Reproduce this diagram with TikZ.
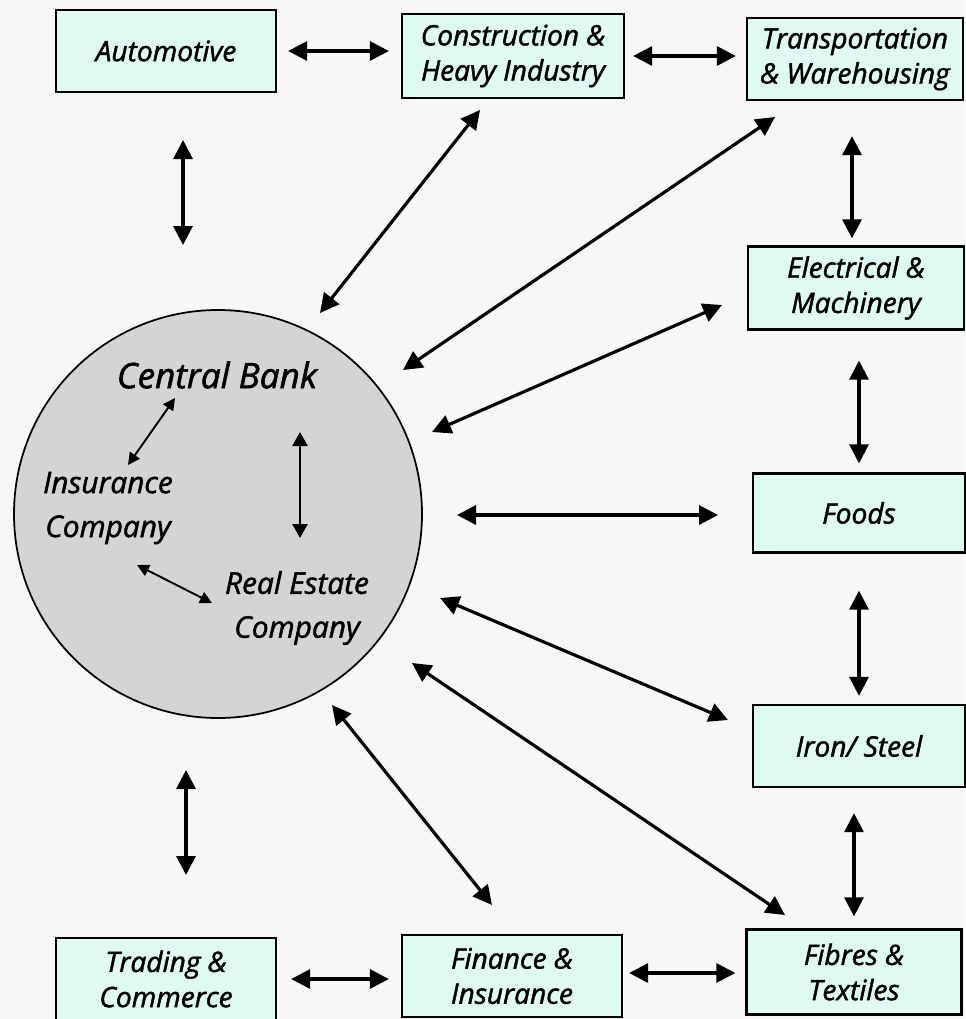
\documentclass[tikz,border=0pt]{standalone}
\usepackage{fontspec}
\setmainfont{Open Sans}[ItalicFeatures={FakeBold=1.6}]
\usetikzlibrary{arrows.meta}
\definecolor{boxfill}{RGB}{222,250,243}
\definecolor{bankfill}{RGB}{212,212,212}
\definecolor{pagebg}{RGB}{247,247,247}
\tikzset{
sector/.style={draw,line width=1.3pt,fill=boxfill,minimum width=4.4cm,minimum height=1.64cm,inner sep=1pt,align=center,font=\fontsize{16}{20}\selectfont\itshape},
link/.style={<->,line width=1.8pt},
inlink/.style={<->,line width=1.1pt,>={Triangle[length=2.4mm,width=2.4mm]}},
inlabel/.style={align=center,font=\fontsize{17}{25}\selectfont\itshape},
}
\begin{document}
\begin{tikzpicture}[>={Triangle[length=3.8mm,width=3.8mm]}]
\useasboundingbox(0,0)rectangle(19.3,-20.38);
\fill[pagebg](0,0)rectangle(19.3,-20.38);
\node(bank)[circle,draw,line width=1pt,fill=bankfill,minimum size=8.16cm]at(4.36,-10.28){};
\node(cb)[inlabel,font=\fontsize{20}{25}\selectfont\itshape]at(4.34,-7.5){Central Bank};
\node(ins)[inlabel]at(2.16,-10.16){Insurance\\Company};
\node(re)[inlabel]at(5.94,-12.16){Real Estate\\Company};
\node(auto)[sector]at(3.32,-1.02){Automotive};
\node(constr)[sector,minimum width=4.44cm,minimum height=1.68cm]at(10.26,-1.12){Construction \&\\Heavy Industry};
\node(trans)[sector,minimum width=4.32cm]at(17.1,-1.18){Transportation\\\& Warehousing};
\node(elec)[sector,minimum width=4.32cm,minimum height=1.66cm]at(17.12,-5.76){Electrical \&\\Machinery};
\node(foods)[sector,minimum width=4.24cm,minimum height=1.58cm]at(17.18,-10.26){Foods};
\node(iron)[sector,minimum width=4.24cm]at(17.18,-14.92){Iron/ Steel};
\node(fibres)[sector,minimum width=4.3cm,minimum height=1.7cm]at(17.08,-19.44){Fibres \&\\Textiles};
\node(fin)[sector]at(10.24,-19.52){Finance \&\\Insurance};
\node(trade)[sector]at(3.32,-19.58){Trading \&\\Commerce};
\coordinate(a1)at(3.66,-2.8);\coordinate(a2)at(3.66,-4.9);
\coordinate(c1)at(9.6,-2.2);\coordinate(c2)at(6.4,-6.26);
\coordinate(t1)at(15.5,-2.34);\coordinate(t2)at(8.06,-7.4);
\coordinate(e1)at(14.44,-6.1);\coordinate(e2)at(8.64,-8.64);
\coordinate(f1)at(14.36,-10.3);\coordinate(f2)at(9.14,-10.3);
\coordinate(i1)at(14.56,-14.4);\coordinate(i2)at(8.8,-11.96);
\coordinate(x1)at(15.7,-18.3);\coordinate(x2)at(8.24,-13.26);
\coordinate(n1)at(9.84,-18.1);\coordinate(n2)at(6.64,-14.1);
\coordinate(d1)at(3.72,-15.4);\coordinate(d2)at(3.72,-17.5);
\coordinate(b1)at(3.5,-7.96);\coordinate(b2)at(2.56,-9.3);
\coordinate(b3)at(6,-8.64);\coordinate(b4)at(6,-10.76);
\coordinate(b5)at(2.74,-11.3);\coordinate(b6)at(4.24,-12.06);
\draw[link,shorten <=.22cm,shorten >=.24cm](auto.east)--(auto.east-|constr.west);
\draw[link,shorten <=.16cm,shorten >=.2cm](constr.east)--(constr.east-|trans.west);
\draw[link](a1)--(a2);
\draw[link](c1)--(c2);
\draw[link](t1)--(t2);
\draw[link,shorten <=.7cm,shorten >=.14cm]([xshift=-.06cm]trans.south)--([xshift=-.06cm]trans.south|-elec.north);
\draw[link](e1)--(e2);
\draw[link,shorten <=.6cm,shorten >=.18cm](elec.south-|foods.south)--(foods.north);
\draw[link](f1)--(f2);
\draw[link,shorten <=.74cm,shorten >=.16cm](foods.south)--(iron.north);
\draw[link](i1)--(i2);
\draw[link,shorten <=.5cm,shorten >=.24cm](iron.south-|fibres.north)--(fibres.north);
\draw[link](x1)--(x2);
\draw[link](n1)--(n2);
\draw[link](d1)--(d2);
\draw[link,shorten <=.28cm,shorten >=.24cm](trade.east)--(trade.east-|fin.west);
\draw[link,shorten <=.12cm,shorten >=.2cm]([yshift=.06cm]fin.east)--([yshift=.06cm]fin.east-|fibres.west);
\draw[inlink](b1)--(b2);
\draw[inlink,line width=1.5pt,>={Triangle[length=2.8mm,width=3mm]}](b3)--(b4);
\draw[inlink](b5)--(b6);
\end{tikzpicture}
\end{document}
